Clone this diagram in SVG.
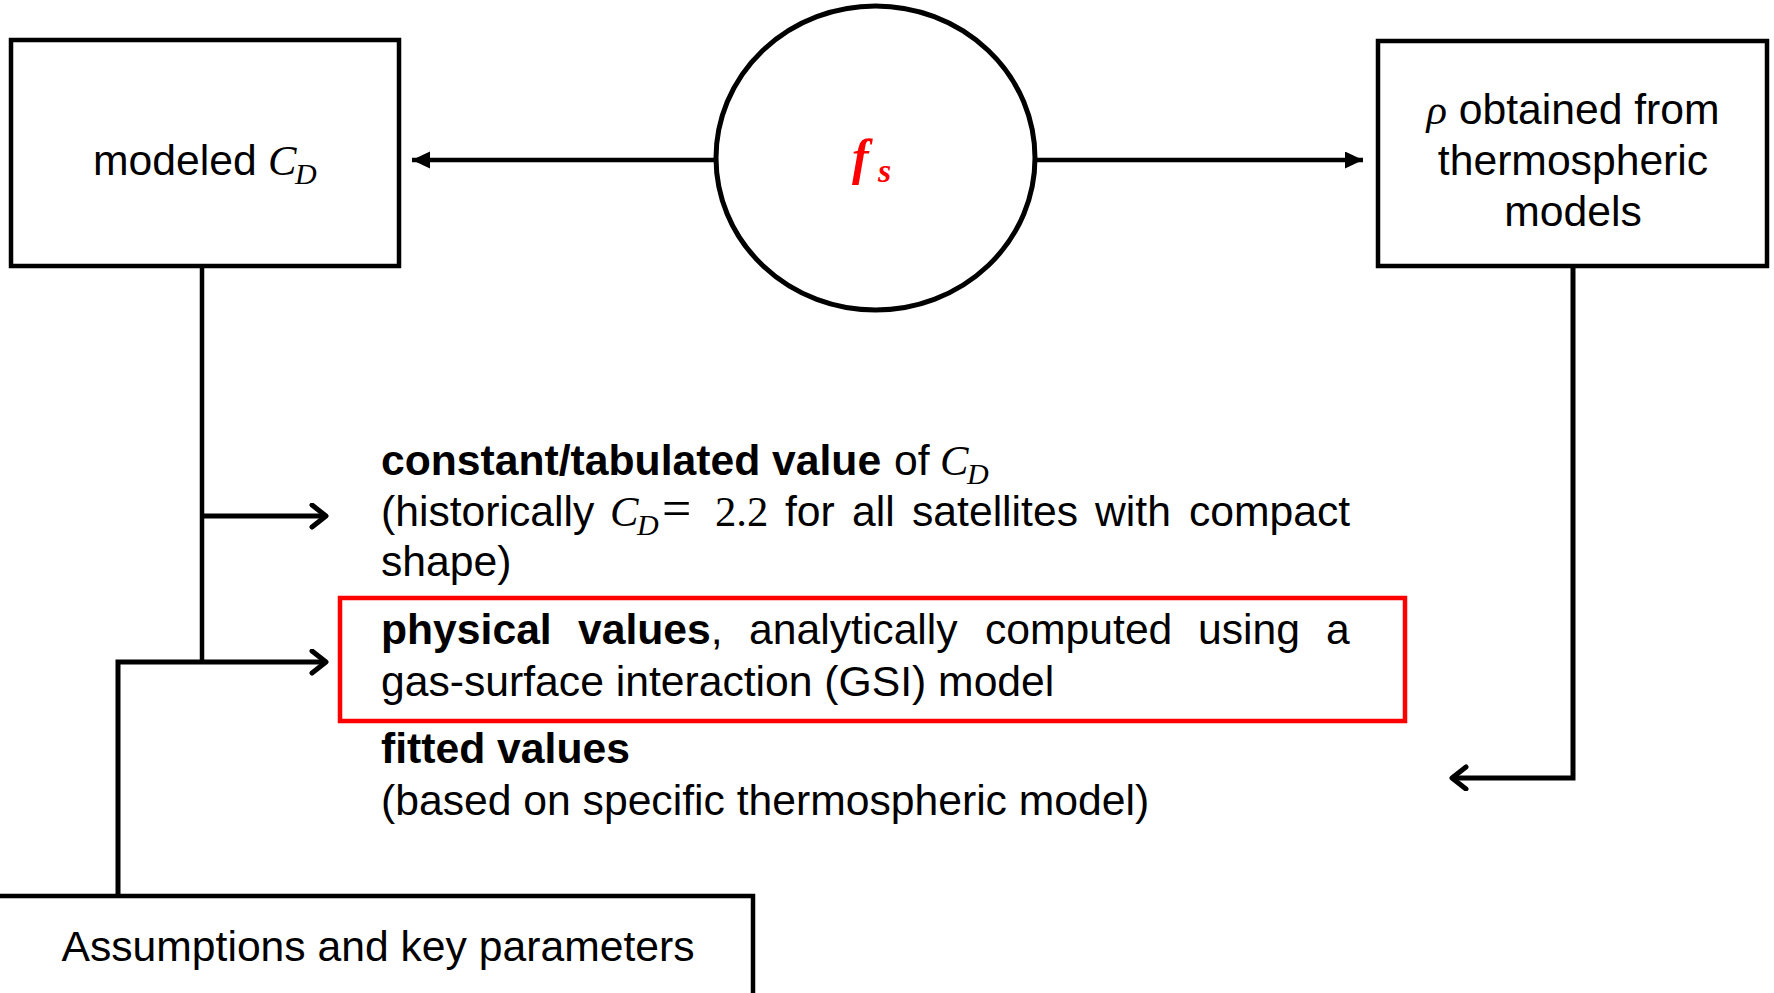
<svg xmlns="http://www.w3.org/2000/svg" width="1774" height="993" viewBox="0 0 1774 993">
<style>
.box{fill:#fff;stroke:#000;stroke-width:4.5}
.t{font-family:"Liberation Sans",Arial,sans-serif;font-size:42.67px;fill:#000}
.b{font-weight:bold}
.m{font-family:"Liberation Serif","Times New Roman",serif;font-style:italic}
.mn{font-family:"Liberation Serif","Times New Roman",serif}
.sub{font-size:30px}
.ln{fill:none;stroke:#000;stroke-width:4.5}
.ln2{fill:none;stroke:#000;stroke-width:5}
</style>
<defs>
<marker id="tri" markerUnits="userSpaceOnUse" markerWidth="22" markerHeight="20" refX="18" refY="8.5" orient="auto">
<path d="M0,0 L18,8.5 L0,17 z" fill="#000"/>
</marker>
<marker id="chev" markerUnits="userSpaceOnUse" markerWidth="30" markerHeight="30" refX="17" refY="13" orient="auto">
<path d="M3,2 L17,13 L3,24" fill="none" stroke="#000" stroke-width="5" stroke-linecap="round" stroke-linejoin="round"/>
</marker>
</defs>
<rect width="1774" height="993" fill="#fff"/>
<g id="connectors">
<line class="ln" x1="716" y1="160" x2="412" y2="160" marker-end="url(#tri)"/>
<line class="ln" x1="1035" y1="160" x2="1363" y2="160" marker-end="url(#tri)"/>
<polyline class="ln" points="202,266 202,662"/>
<line class="ln2" x1="202" y1="516" x2="326" y2="516" marker-end="url(#chev)"/>
<polyline class="ln2" points="118,896 118,662 326,662" marker-end="url(#chev)"/>
<polyline class="ln2" points="1573,266 1573,778 1452,778" marker-end="url(#chev)"/>
</g>
<g id="modeled-cd">
<rect class="box" x="11" y="40" width="388" height="226"/>
<text class="t" x="93" y="175">modeled <tspan class="m" x="268">C</tspan><tspan class="m sub" x="295" dy="9">D</tspan></text>
</g>
<g id="fs">
<ellipse cx="875.5" cy="158" rx="159.5" ry="152" fill="#fff" stroke="#000" stroke-width="5"/>
<text x="852" y="174" font-family="Liberation Serif,'Times New Roman',serif" font-style="italic" font-weight="bold" font-size="50" fill="#ff0000">f<tspan font-size="34" x="878" dy="8">s</tspan></text>
</g>
<g id="rho">
<rect class="box" x="1378" y="41" width="389" height="225"/>
<text class="t" text-anchor="middle"><tspan x="1573" y="124"><tspan class="m">ρ</tspan> obtained from</tspan><tspan x="1573" y="175">thermospheric</tspan><tspan x="1573" y="226">models</tspan></text>
</g>
<g id="options">
<text class="t" y="475"><tspan class="b" x="381">constant/tabulated value</tspan><tspan x="894">of</tspan><tspan class="m" x="940">C</tspan><tspan class="m sub" x="967" dy="9">D</tspan></text>
<text class="t" y="526"><tspan x="381">(historically</tspan><tspan class="m" x="610">C</tspan><tspan class="m sub" x="637" dy="9">D</tspan><tspan class="mn" style="font-size:52px" x="662" dy="-9">=</tspan><tspan class="mn" x="715">2.2</tspan><tspan x="785">for</tspan><tspan x="852">all</tspan><tspan x="912">satellites</tspan><tspan x="1095">with</tspan><tspan x="1189">compact</tspan></text>
<text class="t" x="381" y="576">shape)</text>
<text class="t" y="763"><tspan class="b" x="381">fitted values</tspan></text>
<text class="t" x="381" y="815">(based on specific thermospheric model)</text>
</g>
<g id="physical">
<rect x="340" y="598" width="1065" height="123" fill="none" stroke="#ff0000" stroke-width="4.5"/>
<text class="t" y="644"><tspan class="b" x="381">physical</tspan><tspan class="b" x="578">values</tspan><tspan>,</tspan><tspan x="749">analytically</tspan><tspan x="985">computed</tspan><tspan x="1198">using</tspan><tspan x="1326">a</tspan></text>
<text class="t" x="381" y="696">gas-surface interaction (GSI) model</text>
</g>
<g id="assumptions">
<rect class="box" x="-5" y="896" width="758" height="110"/>
<text class="t" x="378" y="961" text-anchor="middle">Assumptions and key parameters</text>
</g>
</svg>
